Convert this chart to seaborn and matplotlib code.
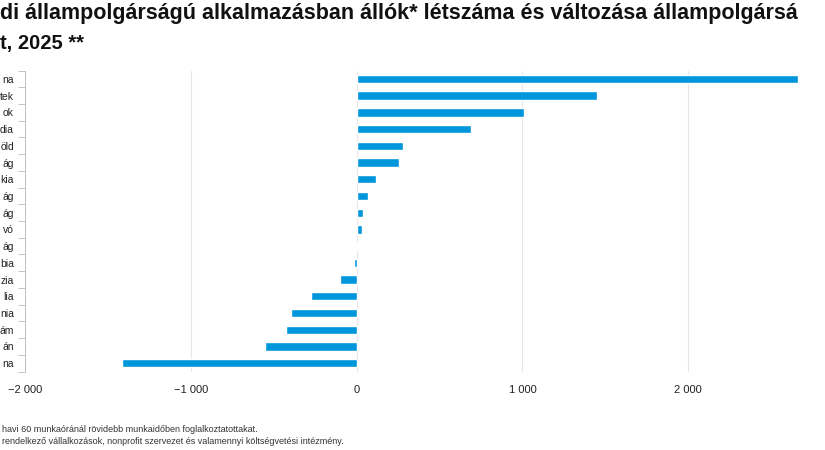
import numpy as np
import pandas as pd
import matplotlib
matplotlib.use("Agg")
import matplotlib.pyplot as plt
import seaborn as sns
from matplotlib.ticker import FixedLocator, FuncFormatter

# Data (labels as visible in the cropped reference)
categories = ["na", "tek", "ok", "dia", "öld", "ág", "kia", "ág", "ág",
              "vó", "ág", "bia", "zia", "lia", "nia", "ám", "án", "na"]
values = [2660, 1450, 1008, 692, 282, 258, 119, 68, 38,
          31, 9, -15, -103, -273, -398, -424, -550, -1416]
x_ticks = [-2000, -1000, 0, 1000, 2000]

title_lines = ["di állampolgárságú alkalmazásban állók* létszáma és változása állampolgársá",
               "t, 2025 **"]
foot_lines = ["havi 60 munkaóránál rövidebb munkaidőben foglalkoztatottakat.",
              "rendelkező vállalkozások, nonprofit szervezet és valamennyi költségvetési intézmény."]

sns.set_theme(style="white")
plt.rcParams["font.family"] = ["Liberation Sans", "DejaVu Sans"]

df = pd.DataFrame({"cat": [f"{i}" for i in range(len(categories))], "val": values})

fig = plt.figure(figsize=(8.25, 4.5), dpi=100)
W, H = 825, 450
top_px, bot_px = 70.6, 371.5
ax = fig.add_axes([25 / W, 1 - bot_px / H, 1 - 25 / W, (bot_px - top_px) / H])

sns.barplot(data=df, x="val", y="cat", orient="h", color="#0096DB",
            width=0.5, saturation=1, ax=ax, zorder=3)

ax.set_xlim(-2000, 2825)
ax.set_ylim(len(categories) - 0.5, -0.5)
ax.set_xlabel("")
ax.set_ylabel("")


def fmt(v, p):
    s = f"{abs(int(v)):,}".replace(",", " ")
    return s if v >= 0 else "\u2212" + s


ax.xaxis.set_major_locator(FixedLocator(x_ticks))
ax.xaxis.set_major_formatter(FuncFormatter(fmt))
ax.tick_params(axis="x", length=0, labelsize=8, pad=10, colors="#222222")
ax.grid(axis="x", color="#e6e6e6", linewidth=0.8, zorder=0)

ax.set_yticks(range(len(categories)))
ax.set_yticklabels(categories)
ax.set_yticks(np.arange(-0.5, len(categories), 1.0), minor=True)
ax.tick_params(axis="y", which="major", length=0, labelsize=7.5, pad=8, colors="#222222")
ax.tick_params(axis="y", which="minor", length=5, width=0.6, color="#bbbbbb", left=True)

for s in ["top", "right", "bottom"]:
    ax.spines[s].set_visible(False)
ax.spines["left"].set_color("#bbbbbb")
ax.spines["left"].set_linewidth(0.6)

fig.text(0.5 / W, 1 - 14 / H, title_lines[0], fontsize=15.5, fontweight="bold",
         va="center", ha="left", color="#111111")
fig.text(0.5 / W, 1 - 43 / H, title_lines[1], fontsize=14.5, fontweight="bold",
         va="center", ha="left", color="#111111")
fig.text(2 / W, 1 - 430 / H, foot_lines[0], fontsize=6.5, va="center", ha="left", color="#333333")
fig.text(2 / W, 1 - 442 / H, foot_lines[1], fontsize=6.5, va="center", ha="left", color="#333333")

fig.savefig("out.png", dpi=100)
